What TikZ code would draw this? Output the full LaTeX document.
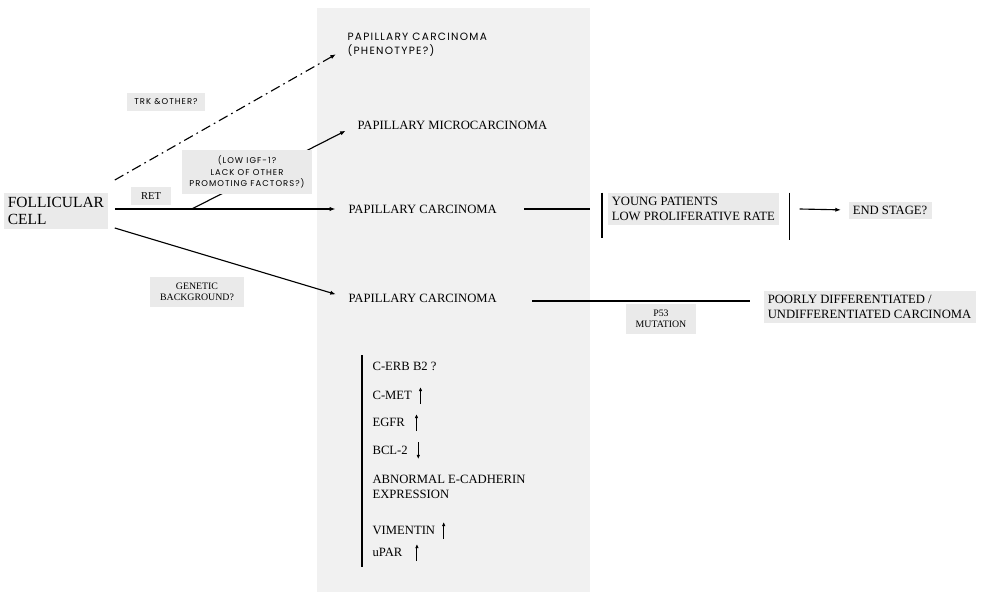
\documentclass[tikz,border=0pt]{standalone}
\usepackage{fontspec}
\setmainfont{Liberation Serif}
\newfontfamily\labelsans[LetterSpace=12]{Poppins}
\usetikzlibrary{arrows.meta, calc}
\definecolor{panelgray}{HTML}{F1F1F1}
\definecolor{taggray}{HTML}{EAEAEA}

\begin{document}
\begin{tikzpicture}[x=0.025cm, y=-0.025cm, line width=0.8pt,
    plain/.style={font=\fontsize{9}{10.5}\selectfont, inner sep=0pt, align=left},
    tag/.style={fill=taggray, inner sep=3pt, align=center},
    tagserif/.style={tag, inner xsep=7pt, inner ysep=4pt, font=\fontsize{7}{8}\selectfont},
    tagsans/.style={tag, inner xsep=5pt, inner ysep=4pt, font=\labelsans\fontsize{6}{8}\selectfont},
    feeds/.style={-{Latex[length=4pt,width=3pt]}, shorten >=9pt},
    updown/.style={line width=0.6pt, -{Latex[length=3pt,width=2.6pt]}}]
  \useasboundingbox (0,0) rectangle (991,592);
  \fill[panelgray] (317,8) rectangle (590,592);

  % starting cell and the four outcomes
  \node[tag, anchor=west, align=left, font=\fontsize{11}{12.5}\selectfont] (cell) at (3,211) {FOLLICULAR\\ CELL};
  \node[plain, anchor=west, font=\labelsans\fontsize{7.5}{10}\selectfont] (pheno) at (347,45) {PAPILLARY CARCINOMA\\(PHENOTYPE?)};
  \node[plain, anchor=west] (micro) at (357,125) {PAPILLARY MICROCARCINOMA};
  \node[plain, anchor=west] (pc) at (348,209) {PAPILLARY CARCINOMA};
  \node[plain, anchor=west] (pcb) at (348,298) {PAPILLARY CARCINOMA};

  \coordinate (retstart) at ([shift={(6,0)}]cell.east);
  \coordinate (fork) at ($(retstart |- pc.west)!0.33!(pc.west)$);
  \draw[feeds, dash pattern=on 7pt off 3pt on 1.2pt off 3pt] ([shift={(0,-31)}]retstart) -- ([shift={(0,3)}]pheno.west);
  \draw[feeds] (retstart |- pc.west) -- (pc.west);
  \draw[feeds] (fork) -- (micro.west);
  \draw[feeds] ([shift={(0,17)}]retstart) -- (pcb.west);

  % pathway labels
  \node[tagsans] (trk) at (166,102) {TRK \&OTHER?};
  \node[tagsans] (lowigf) at (247,172) {(LOW IGF-1?\\LACK OF OTHER\\PROMOTING FACTORS?)};
  \node[tagserif, font=\fontsize{7.5}{8}\selectfont] (ret) at (151,196) {RET};
  \node[tagserif] (genetic) at (197,292) {GENETIC\\BACKGROUND?};

  % right hand side
  \node[tag, anchor=west, align=left, font=\fontsize{9}{10.5}\selectfont] (young) at (607,209) {YOUNG PATIENTS\\LOW PROLIFERATIVE RATE};
  \node[tag, anchor=west, font=\fontsize{9}{10.5}\selectfont] (endst) at (848,210) {END STAGE?};
  \node[tag, anchor=west, align=left, font=\fontsize{9}{10.5}\selectfont] (poor) at (763,307) {POORLY DIFFERENTIATED /\\UNDIFFERENTIATED CARCINOMA};
  \node[tagserif] (p53) at (661,319) {P53\\MUTATION};

  \draw ([shift={(27,0)}]pc.east) -- ([shift={(-17,0)}]young.west);
  \draw ([shift={(-5,0)}]young.north west) -- ([shift={(-5,13)}]young.south west);
  \draw ([shift={(10,0)}]young.north east) -- ([shift={(10,15)}]young.south east);
  \draw[feeds, shorten >=5pt] ([shift={(20,0)}]young.east) -- (endst.west);
  \coordinate (mutstart) at ([shift={(35,3)}]pcb.east);
  \draw[shorten >=9pt] (mutstart) -- (mutstart -| poor.west);

  % marker list
  \node[plain, anchor=west] (cerb) at (372,366) {C-ERB B2 ?};
  \node[plain, anchor=west] (cmet) at (372,395) {C-MET};
  \node[plain, anchor=west] (egfr) at (372,422) {EGFR};
  \node[plain, anchor=west] (bcl) at (372,450) {BCL-2};
  \node[plain, anchor=west] (ecad) at (372,487) {ABNORMAL E-CADHERIN\\EXPRESSION};
  \node[plain, anchor=west] (vim) at (372,530) {VIMENTIN};
  \node[plain, anchor=west] (upar) at (372,552) {uPAR};
  \draw ([shift={(-10,-11)}]cerb.west) -- ([shift={(-10,15)}]upar.west);

  \draw[updown] ([shift={(8,9)}]cmet.east) -- ([shift={(8,-8)}]cmet.east);
  \draw[updown] ([shift={(11,9)}]egfr.east) -- ([shift={(11,-8)}]egfr.east);
  \draw[updown] ([shift={(10,-8)}]bcl.east) -- ([shift={(10,9)}]bcl.east);
  \draw[updown] ([shift={(8,9)}]vim.east) -- ([shift={(8,-8)}]vim.east);
  \draw[updown] ([shift={(14,9)}]upar.east) -- ([shift={(14,-8)}]upar.east);
\end{tikzpicture}
\end{document}
